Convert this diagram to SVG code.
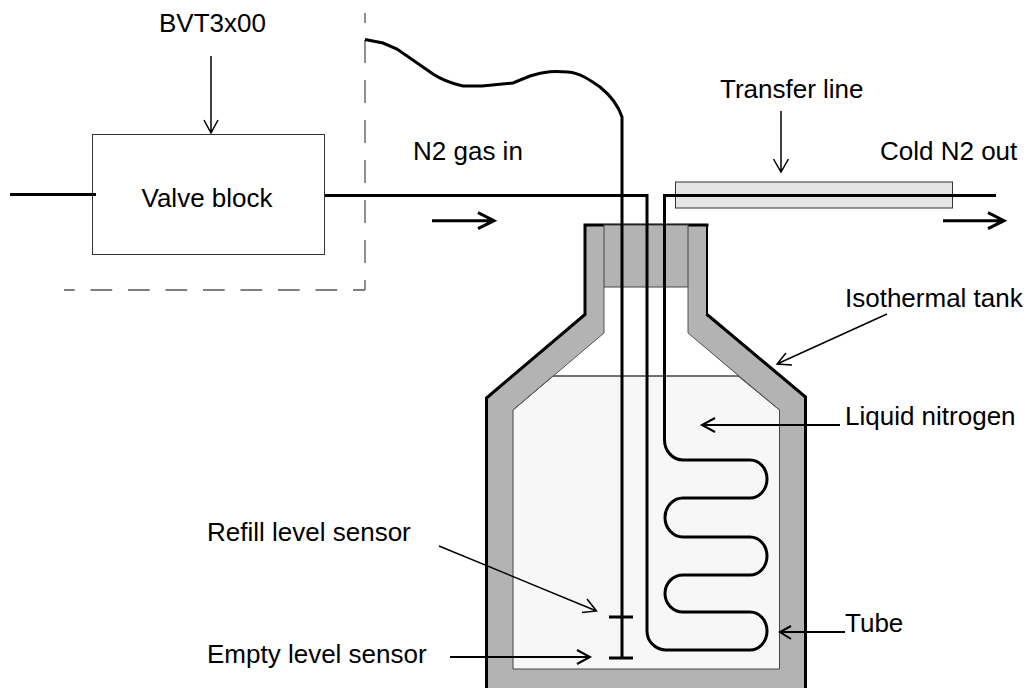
<svg xmlns="http://www.w3.org/2000/svg" width="1034" height="688" viewBox="0 0 1034 688">
<style>
text{font-family:"Liberation Sans",Arial,sans-serif;font-size:26px;fill:#000}
.w{fill:none;stroke:#000;stroke-width:3}
.a{fill:none;stroke:#000;stroke-width:1.500}
.b{fill:none;stroke:#000;stroke-width:2}
.d{fill:none;stroke:#555;stroke-width:1.300}
</style>
<rect width="1034" height="688" fill="#fff"/>
<g id="tank">
<path d="M584 225H707V314L806 397V688H486V398L584 314Z" fill="#b3b3b3"/>
<path d="M604 287H688V333L738 376H553L604 333Z" fill="#fff"/>
<path d="M553 376H738L779.500 410V669H513V410Z" fill="#f7f7f7" stroke="#444" stroke-width="1"/>
<path d="M604 287V333L513 410M688 287V333L779.500 410" fill="none" stroke="#555" stroke-width="1"/>
<path d="M553 376H738" fill="none" stroke="#444" stroke-width="1"/>
<path d="M486.500 688V398L585 314.500V225H708.500" class="w"/>
<path d="M707 225V314" fill="none" stroke="#000" stroke-width="2"/>
<path d="M706.500 314L805.500 397V688" class="w"/>
</g>
<g id="plug"><rect x="604" y="225" width="84" height="62" fill="#b3b3b3" stroke="#444" stroke-width="1"/></g>
<g id="transfer-line"><rect x="675.500" y="182" width="277" height="26" fill="#e5e5e5" stroke="#333" stroke-width="1"/></g>
<g id="valve-block"><rect x="92.500" y="134.500" width="232" height="120" fill="#fff" stroke="#333" stroke-width="1"/><text x="141.500" y="207">Valve block</text></g>
<g id="enclosure">
<path d="M365 13V290" class="d" stroke-dasharray="23 17" stroke-dashoffset="13"/>
<path d="M64 290H365" class="d" stroke-dasharray="21.700 15.800" stroke-dashoffset="11"/>
</g>
<g id="connectors">
<path d="M10 194.500H96" class="w"/>
<path d="M325 195.500H647V631A19 19 0 0 0 666 650H750A17 19 0 0 0 750 612H683A18 18.500 0 0 1 683 575H750A17 19 0 0 0 750 537H683A18 19.500 0 0 1 683 498H750A17 19 0 0 0 750 460H683A18.500 20 0 0 1 664.500 440V195.500H996" class="w"/>
<path d="M365 39.500L383 43L397 49L433 74C445 82 455 84 463 86L482 86L513 83L530 76C545 71 555 71 568 72C580 73 590 80 600 87C610 95 618 105 622 117V659" class="w"/>
<path d="M609 617H633M609 658H633" class="w"/>
<path d="M211 56V133M204 120L211 133L218 120" class="a"/>
<path d="M781 111V172M773.500 159L781 172L788.500 159" class="a"/>
<path d="M432 220.700H494M478 212.700L494 220.700L478 228.700" class="w" stroke-width="2.500"/>
<path d="M943 220.700H1004M988 212.700L1004 220.700L988 228.700" class="w"/>
<path d="M887 314L777 364M786 353L777 364L792 365" class="a"/>
<path d="M840 425H702M715 418L702 425L715 432" class="b"/>
<path d="M439 546L596.500 611M587 599L596.500 611L582 612.500" class="a"/>
<path d="M450 657H590M577 650L590 657L577 664" class="b"/>
<path d="M845 632H780M791 626L780 632L791 639" class="b"/>
</g>
<g id="labels">
<text x="159" y="32">BVT3x00</text>
<text x="413" y="160">N2 gas in</text>
<text x="720" y="98">Transfer line</text>
<text x="880" y="160">Cold N2 out</text>
<text x="845" y="307">Isothermal tank</text>
<text x="845" y="425">Liquid nitrogen</text>
<text x="207" y="541">Refill level sensor</text>
<text x="207" y="663">Empty level sensor</text>
<text x="845" y="632">Tube</text>
</g>
</svg>
